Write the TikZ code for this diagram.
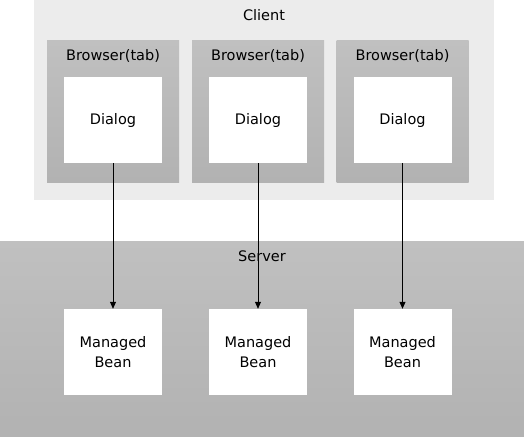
\documentclass[tikz,border=0pt]{standalone}
\usepackage{fontspec}
\setmainfont{DejaVu Sans}
\usepackage{tikz}
\usetikzlibrary{arrows.meta}

\definecolor{clientgray}{HTML}{ECECEC}
\definecolor{boxtop}{HTML}{C0C0C0}
\definecolor{boxbottom}{HTML}{B2B2B2}

\begin{document}
\begin{tikzpicture}[>={Triangle[length=7pt,width=6pt]}, x=1pt, y=-1pt, font=\fontsize{14.5}{21.5}\selectfont,
	panel/.style={rectangle, inner sep=0pt, top color=boxtop, bottom color=boxbottom, draw=none},
	whitebox/.style={rectangle, fill=white, inner sep=0pt, minimum width=98pt, minimum height=86pt, align=center}]
	\useasboundingbox (0, 0) rectangle (524, 436);
	% Vùng client và server
	\node[rectangle, fill=clientgray, inner sep=0pt, minimum width=460pt, minimum height=200pt] (client) at (264, 100) {};
	\node[panel, minimum width=524pt, minimum height=195pt] (server) at (262, 338.5) {};
	\node (clientlabel) at (264, 15) {Client};
	\node (serverlabel) at (262, 256) {Server};
	% Ba cột: trình duyệt, hộp thoại, bean
	\foreach \i/\x in {1/113, 2/258, 3/402.5} {
		\node[panel, minimum width=132pt, minimum height=141pt] (browser\i) at (\x, 111.5) {};
		\node (browserlabel\i) at (\x, 56) {Browser(tab)};
		\node[whitebox] (dialog\i) at (\x, 120) {\raisebox{-2pt}{Dialog}};
		\node[whitebox] (bean\i) at (\x, 352) {\raisebox{-1pt}{Managed}\\Bean};
		\draw[->, line width=0.8pt] (dialog\i) -- (bean\i);
	}
\end{tikzpicture}
\end{document}
